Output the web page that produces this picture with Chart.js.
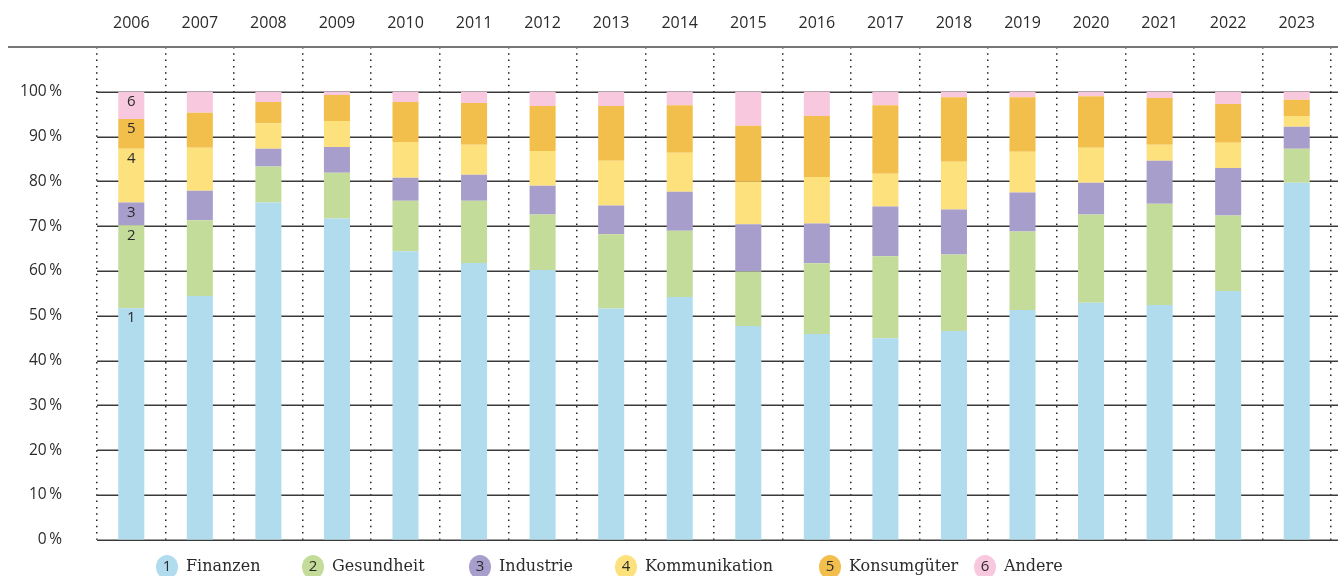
<!DOCTYPE html>
<html>
<head>
<meta charset="utf-8">
<script src="https://cdn.jsdelivr.net/npm/chart.js@4.4.1/dist/chart.umd.min.js"></script>
<style>
  html, body { margin: 0; padding: 0; background: #fff; }
  canvas { display: block; }
</style>
</head>
<body>
<canvas id="c" width="1338" height="576"></canvas>
<script>
const years = ['2006','2007','2008','2009','2010','2011','2012','2013','2014','2015','2016','2017','2018','2019','2020','2021','2022','2023'];
const seriesNames = ['Finanzen','Gesundheit','Industrie','Kommunikation','Konsumgüter','Andere'];
const finanzen      = [51.7,54.4,75.3,71.7,64.4,61.8,60.2,51.6,54.2,47.7,45.9,45.0,46.6,51.3,52.9,52.4,55.5,79.7];
const gesundheit    = [18.5,16.9, 8.0,10.2,11.3,13.9,12.4,16.6,14.8,12.2,15.8,18.3,17.1,17.5,19.7,22.6,16.9, 7.6];
const industrie     = [ 5.1, 6.6, 4.0, 5.8, 5.1, 5.8, 6.4, 6.4, 8.7,10.5, 8.9,11.1,10.0, 8.7, 7.1, 9.6,10.6, 4.9];
const kommunikation = [12.0, 9.6, 5.7, 5.8, 8.0, 6.7, 7.8,10.0, 8.7, 9.5,10.4, 7.3,10.7, 9.1, 7.8, 3.6, 5.6, 2.4];
const konsumgueter  = [ 6.6, 7.8, 4.7, 5.8, 8.9, 9.3,10.0,12.2,10.6,12.5,13.6,15.3,14.4,12.2,11.5,10.4, 8.7, 3.6];
const andere        = [ 6.1, 4.7, 2.3, 0.7, 2.3, 2.5, 3.2, 3.2, 3.0, 7.6, 5.4, 3.0, 1.2, 1.2, 1.0, 1.4, 2.7, 1.8];
const yTicks = [0,10,20,30,40,50,60,70,80,90,100];

const colors = ['#b0dcee','#c4dc9a','#a89ecc','#fde17c','#f2bf4d','#f8c8de'];
const seriesValues = [finanzen, gesundheit, industrie, kommunikation, konsumgueter, andere];
const legendCenters = [167, 313, 480, 626, 830, 985];
const textColor = '#2b2b2b';
const sansFont = "'Open Sans', 'Noto Sans', sans-serif";
const serifFont = "'DejaVu Serif', serif";

const decor = {
  id: 'decor',
  beforeDatasetsDraw(chart) {
    const ctx = chart.ctx;
    const y = chart.scales.y;
    const area = chart.chartArea;
    ctx.save();
    ctx.strokeStyle = '#3a3a3a';
    ctx.lineWidth = 1.5;
    y.ticks.forEach(t => {
      const py = Math.round(y.getPixelForValue(t.value)) + 0.25;
      ctx.beginPath();
      ctx.moveTo(area.left, py);
      ctx.lineTo(chart.width, py);
      ctx.stroke();
    });
    ctx.strokeStyle = '#777';
    ctx.lineWidth = 2;
    ctx.beginPath();
    ctx.moveTo(8, area.top);
    ctx.lineTo(chart.width, area.top);
    ctx.stroke();
    ctx.restore();
  },
  afterDatasetsDraw(chart) {
    const ctx = chart.ctx;
    ctx.save();
    ctx.fillStyle = textColor;
    ctx.font = "15px " + sansFont;
    ctx.textAlign = 'center';
    ctx.textBaseline = 'middle';
    chart.data.datasets.forEach((ds, i) => {
      const el = chart.getDatasetMeta(i).data[0];
      ctx.fillText(String(i + 1), el.x, el.y + 10);
    });
    // legend
    const ly = 567;
    chart.data.datasets.forEach((ds, i) => {
      const cx = legendCenters[i];
      ctx.fillStyle = ds.backgroundColor;
      ctx.beginPath();
      ctx.ellipse(cx, ly, 11, 12, 0, 0, Math.PI * 2);
      ctx.fill();
      ctx.fillStyle = textColor;
      ctx.font = "15px " + sansFont;
      ctx.textAlign = 'center';
      ctx.fillText(String(i + 1), cx, ly);
      ctx.font = "16px " + serifFont;
      ctx.textAlign = 'left';
      ctx.fillText(ds.label, cx + 19, ly);
    });
    ctx.restore();
  }
};

new Chart(document.getElementById('c'), {
  type: 'bar',
  data: {
    labels: years,
    datasets: seriesNames.map((name, i) => ({
      label: name,
      data: seriesValues[i],
      backgroundColor: colors[i],
      borderWidth: 0,
      barPercentage: 0.38,
      categoryPercentage: 1.0
    }))
  },
  options: {
    responsive: false,
    animation: false,
    devicePixelRatio: 1,
    layout: { padding: { left: 1, right: 7, top: 0, bottom: 34.5 } },
    plugins: { legend: { display: false }, tooltip: { enabled: false } },
    scales: {
      x: {
        position: 'top',
        stacked: true,
        grid: { display: true, offset: true, color: '#222', lineWidth: 1.5, drawTicks: false },
        border: { display: false, dash: [1.5, 4.8] },
        ticks: { color: textColor, font: { family: sansFont, size: 16 }, padding: 14, maxRotation: 0 },
        afterFit(s) { s.height = 47; }
      },
      y: {
        stacked: true,
        min: 0,
        max: 110,
        grid: { display: false },
        border: { display: false },
        afterBuildTicks(s) { s.ticks = yTicks.map(v => ({ value: v })); },
        ticks: {
          color: textColor,
          font: { family: sansFont, size: 15.5 },
          padding: 27,
          callback: v => v + '\u2009%'
        },
        afterFit(s) { s.width = 96; }
      }
    }
  },
  plugins: [decor]
});
</script>
</body>
</html>
